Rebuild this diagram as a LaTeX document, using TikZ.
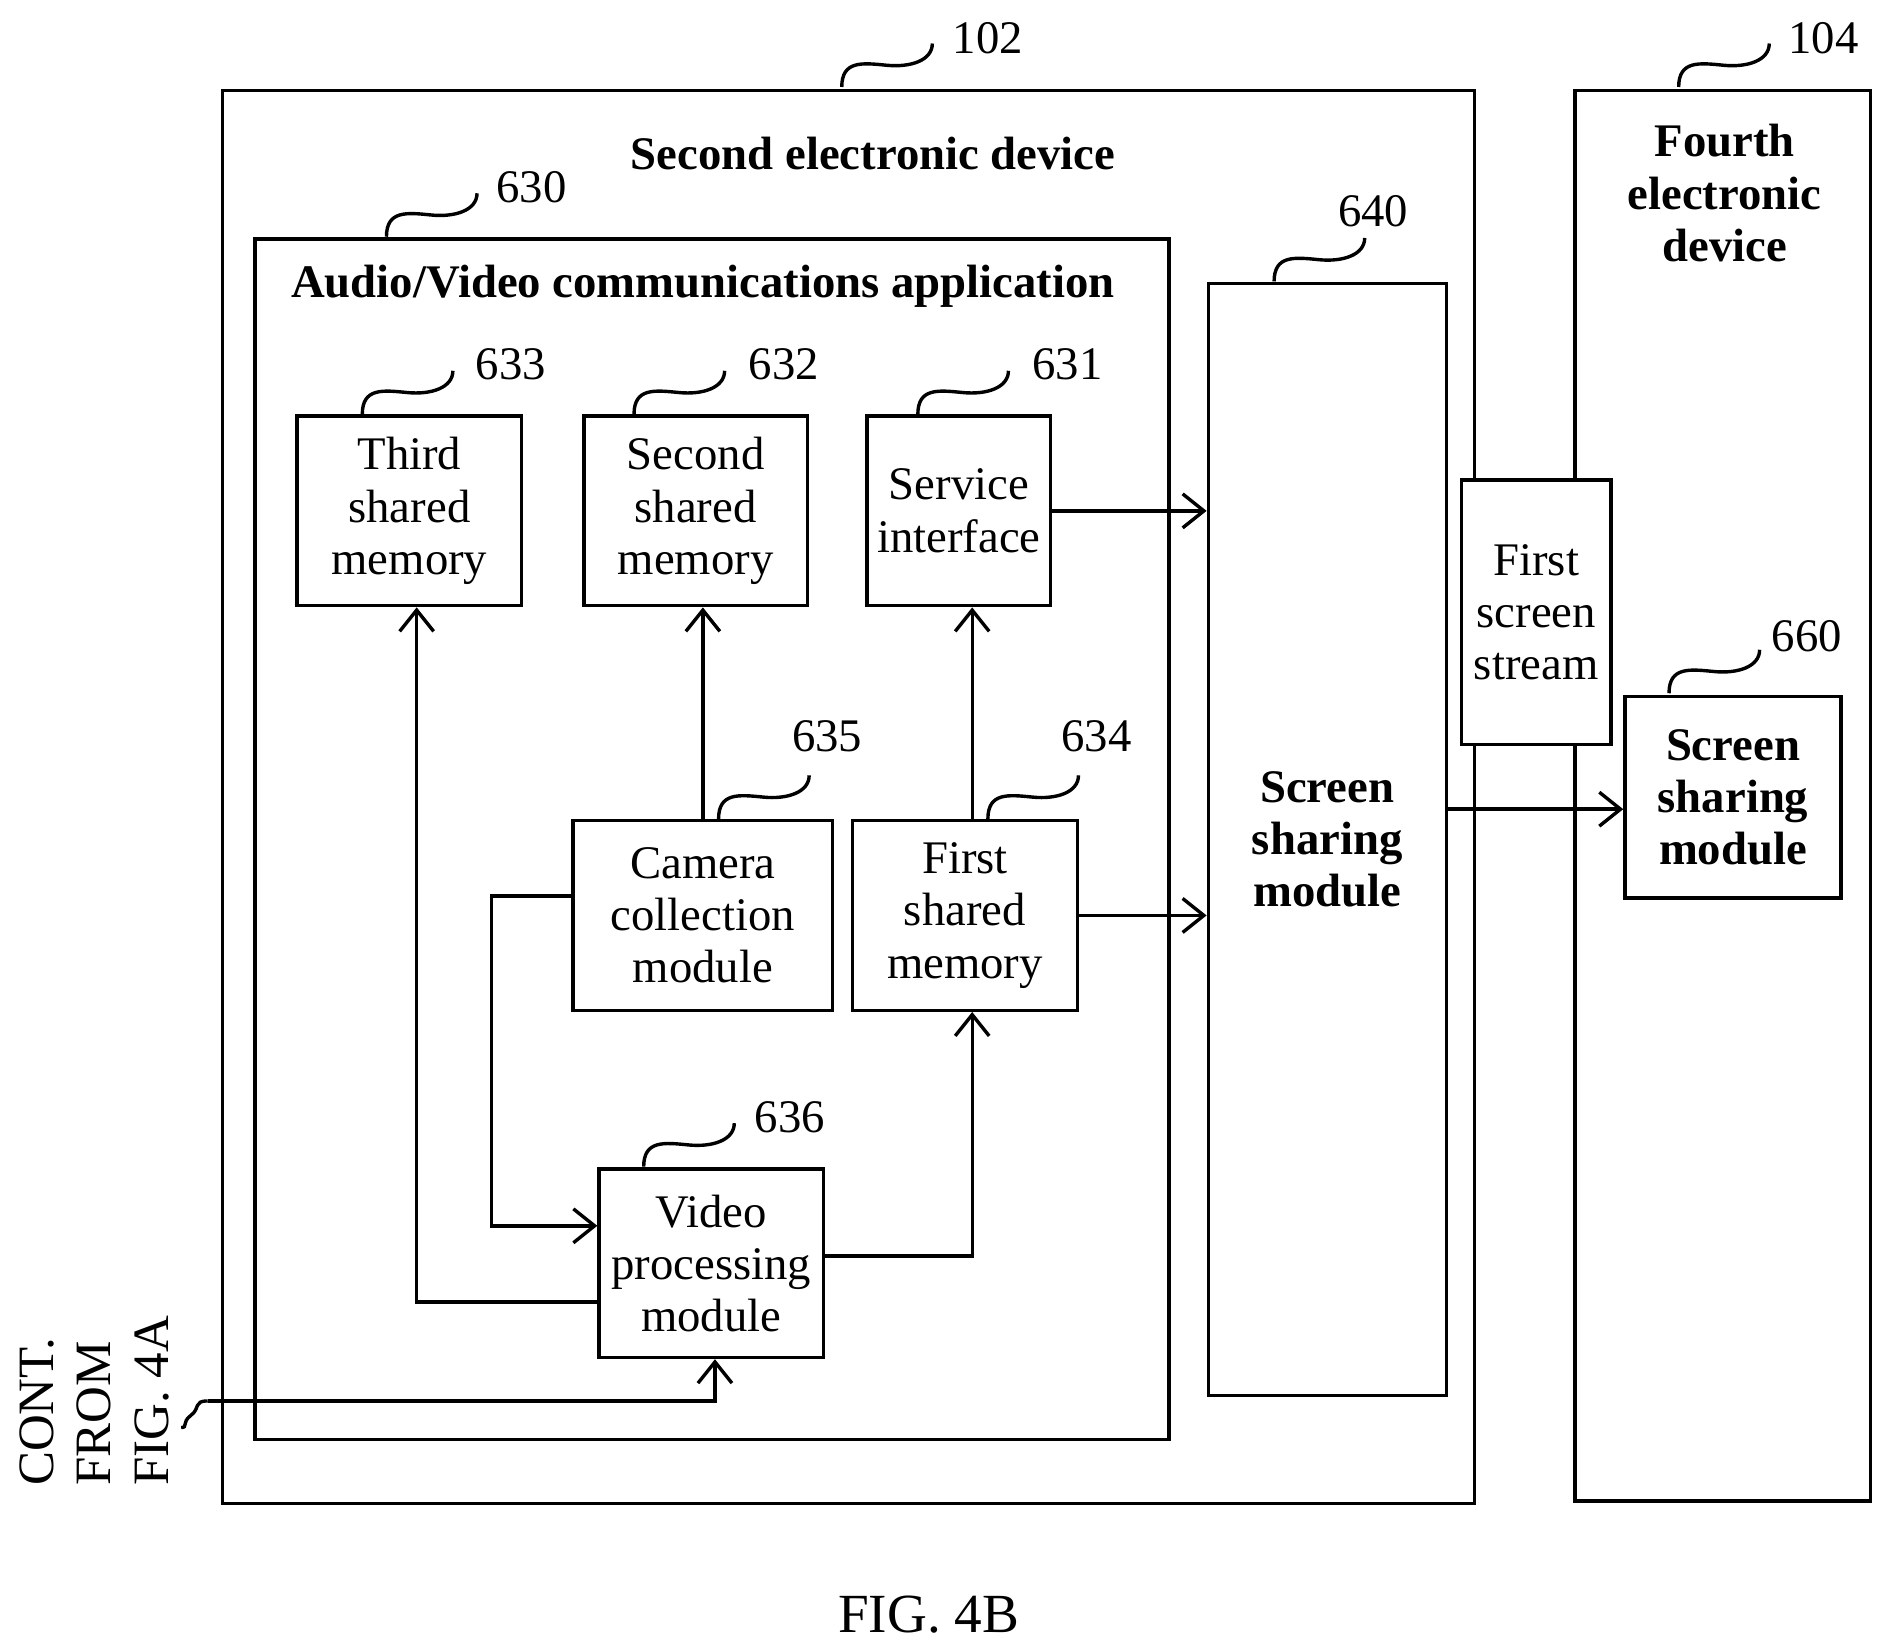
\documentclass[tikz,border=0pt]{standalone}
\usepackage{fontspec}
\setmainfont{Liberation Serif}
\usetikzlibrary{arrows.meta}
\tikzset{
    blk/.style={draw, thick, align=center, inner sep=0pt, font=\fontsize{11}{12.3}\selectfont},
    bblk/.style={blk, font=\fontsize{11}{12.3}\selectfont\bfseries},
    lbl/.style={font=\fontsize{11}{12}\selectfont, inner sep=0pt},
    conn/.style={thick, -{Straight Barb[length=5pt,width=8pt]}},
    wig/.style={thick}
}
% squiggle leading up to a reference numeral
\newcommand{\wiggle}[2]{\draw[wig] (#1,#2) .. controls +(0,-22) and +(-20,-2) .. ++(37,-18) .. controls +(20,2) and +(0,14) .. ++(38,-18);}
\begin{document}
\begin{tikzpicture}[x=0.01cm, y=-0.01cm]
    \useasboundingbox (0,0) rectangle (1560,1365);

    % devices
    \draw[thick] (184,75) rectangle (1221,1245);
    \node[lbl, font=\fontsize{11}{12}\selectfont\bfseries] (dev2) at (723,127) {Second electronic device};
    \draw[thick] (1304,75) rectangle (1549,1243);
    \node[lbl, align=center, font=\fontsize{11}{12.3}\selectfont\bfseries] (dev4) at (1428,160) {Fourth\\electronic\\device};

    % application
    \draw[thick] (211,198) rectangle (968,1192);
    \node[lbl, font=\fontsize{11}{12}\selectfont\bfseries] (app) at (582,237) {Audio/Video communications application};

    \node[blk, minimum width=186*0.01cm, minimum height=157*0.01cm] (shm3) at (339,423) {Third\\shared\\memory};
    \node[blk, minimum width=185*0.01cm, minimum height=157*0.01cm] (shm2) at (576,423) {Second\\shared\\memory};
    \node[blk, minimum width=152*0.01cm, minimum height=157*0.01cm] (srv) at (794,423) {Service\\interface};
    \node[blk, minimum width=215*0.01cm, minimum height=157*0.01cm] (cam) at (582,758) {Camera\\collection\\module};
    \node[blk, minimum width=186*0.01cm, minimum height=157*0.01cm] (shm1) at (799,758) {First\\shared\\memory};
    \node[blk, minimum width=186*0.01cm, minimum height=156*0.01cm] (vid) at (589,1046) {Video\\processing\\module};

    \node[bblk, minimum width=197*0.01cm, minimum height=921*0.01cm] (share) at (1099,695) {Screen\\sharing\\module};
    \node[blk, minimum width=124*0.01cm, minimum height=219*0.01cm, fill=white] (stream) at (1272,507) {First\\screen\\stream};
    \node[bblk, minimum width=179*0.01cm, minimum height=167*0.01cm] (share4) at (1435,660) {Screen\\sharing\\module};

    % connections
    \draw[conn] (srv.east) -- (srv.east -| share.west);
    \draw[conn] (shm1.east) -- (shm1.east -| share.west);
    \draw[conn] (share.east |- 0,670) -- (share4.west |- 0,670);
    \draw[conn] (cam.north -| 582,0) -- (shm2.south -| 582,0);
    \draw[conn] (shm1.north -| 805,0) -- (srv.south -| 805,0);
    \coordinate (c1) at (407,742);
    \coordinate (c2) at (407,1015);
    \draw[conn] (cam.west |- c1) -- (c1) -- (c2) -- (vid.west |- c2);
    \coordinate (c3) at (345,1078);
    \draw[conn] (vid.west |- c3) -- (c3) -- (shm3.south -| c3);
    \coordinate (c4) at (805,1040);
    \draw[conn] (vid.east |- c4) -- (c4) -- (shm1.south -| c4);
    \coordinate (in) at (172,1160);
    \draw[conn] (in) -- (592,1160) -- (vid.south -| 592,0);
    \draw[wig] (in) .. controls +(-12,0) and +(8,-6) .. (158,1172) .. controls +(-8,6) and +(6,0) .. (150,1182);

    % reference numerals
    \wiggle{697}{72}  \node[lbl] (n102) at (818,32) {102};
    \wiggle{1390}{72} \node[lbl] (n104) at (1510,32) {104};
    \wiggle{320}{196} \node[lbl] (n630) at (440,155) {630};
    \wiggle{1055}{233} \node[lbl] (n640) at (1137,175) {640};
    \wiggle{300}{343} \node[lbl] (n633) at (423,302) {633};
    \wiggle{525}{343} \node[lbl] (n632) at (649,302) {632};
    \wiggle{760}{343} \node[lbl] (n631) at (884,302) {631};
    \wiggle{595}{678} \node[lbl] (n635) at (685,610) {635};
    \wiggle{818}{678} \node[lbl] (n634) at (908,610) {634};
    \wiggle{533}{966} \node[lbl] (n636) at (654,925) {636};
    \wiggle{1382}{574} \node[lbl] (n660) at (1496,527) {660};

    \node[lbl, rotate=90, align=left, font=\fontsize{12}{13.5}\selectfont] (cont) at (78,1160) {CONT.\\FROM\\FIG. 4A};
    \node[lbl, font=\fontsize{13}{14}\selectfont] (fig) at (769,1337) {FIG. 4B};
\end{tikzpicture}
\end{document}
